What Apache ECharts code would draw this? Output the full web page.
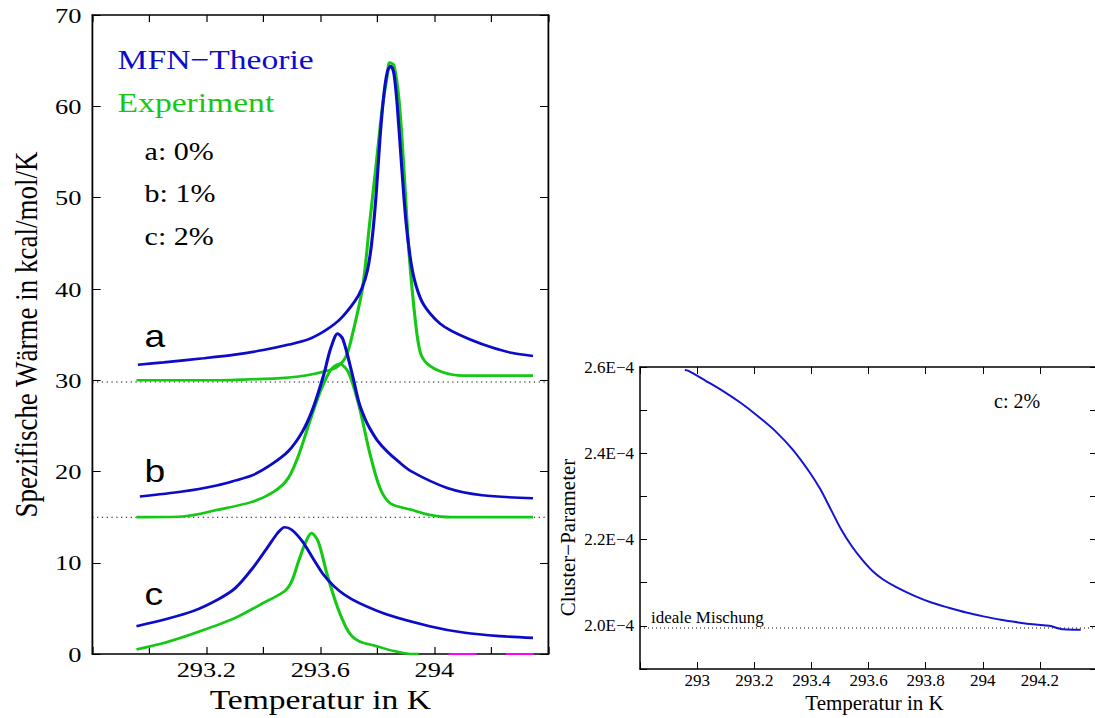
<!DOCTYPE html>
<html>
<head>
<meta charset="utf-8">
<script src="https://cdn.jsdelivr.net/npm/echarts@6/dist/echarts.min.js"></script>
<style>
  html, body { margin: 0; padding: 0; background: #fff; overflow: hidden; }
  #left { position: absolute; left: 0; top: 0; width: 470px; height: 718px;
          transform: scaleX(1.2); transform-origin: 0 0; }
  #right { position: absolute; left: 540px; top: 0; width: 560px; height: 718px; }
</style>
</head>
<body>
<div id="left"></div>
<div id="right"></div>
<script>
// ---- linke Grafik: spezifische Waerme (kcal/mol/K) ----
const tA_mfn = [292.96, 293.05, 293.19, 293.3, 293.4, 293.49, 293.56, 293.62, 293.67, 293.72, 293.745, 293.765, 293.78, 293.795, 293.81, 293.824, 293.836, 293.847, 293.858, 293.87, 293.885, 293.9, 293.915, 293.93, 293.955, 293.985, 294.02, 294.06, 294.13, 294.2, 294.27, 294.346];
const cA_mfn = [31.7, 31.95, 32.4, 32.8, 33.3, 33.9, 34.5, 35.5, 36.7, 38.6, 40.0, 42.0, 45.0, 50.0, 56.8, 61.6, 63.9, 64.4, 63.6, 60.0, 53.5, 47.5, 43.5, 41.0, 38.7, 37.3, 36.2, 35.4, 34.4, 33.6, 33.0, 32.65];
const tA_exp = [292.955, 293.1, 293.25, 293.36, 293.45, 293.524, 293.58, 293.62, 293.656, 293.69, 293.714, 293.749, 293.772, 293.795, 293.818, 293.836, 293.843, 293.858, 293.876, 293.894, 293.911, 293.934, 293.951, 293.975, 294.027, 294.1, 294.346];
const cA_exp = [30.0, 30.0, 30.0, 30.1, 30.2, 30.4, 30.7, 31.0, 31.4, 32.6, 35.2, 40.3, 46.9, 53.4, 60.0, 63.6, 64.8, 64.5, 60.7, 52.7, 44.0, 36.3, 33.0, 31.8, 30.9, 30.5, 30.5];

const tB_mfn = [292.967, 293.116, 293.24, 293.3, 293.363, 293.425, 293.487, 293.537, 293.574, 293.611, 293.636, 293.661, 293.679, 293.71, 293.735, 293.755, 293.772, 293.8, 293.834, 293.87, 293.92, 294.045, 294.168, 294.346];
const cB_mfn = [17.26, 17.8, 18.5, 19.0, 19.6, 20.7, 22.2, 24.35, 26.9, 30.5, 33.45, 35.1, 34.5, 30.9, 27.6, 25.9, 24.8, 23.4, 22.2, 21.2, 20.0, 18.2, 17.4, 17.07];
const tB_exp = [292.955, 293.116, 293.24, 293.363, 293.438, 293.487, 293.524, 293.562, 293.599, 293.636, 293.667, 293.698, 293.735, 293.772, 293.809, 293.846, 293.92, 293.983, 294.057, 294.346];
const cB_exp = [15.0, 15.07, 15.8, 16.7, 17.8, 19.26, 21.8, 25.4, 28.7, 31.1, 31.8, 30.9, 27.3, 22.2, 18.2, 16.5, 15.8, 15.25, 15.0, 15.0];

const tC_mfn = [292.955, 293.054, 293.153, 293.24, 293.302, 293.363, 293.413, 293.45, 293.475, 293.5, 293.537, 293.574, 293.611, 293.648, 293.685, 293.735, 293.834, 293.983, 294.107, 294.23, 294.346];
const cC_mfn = [3.06, 3.79, 4.7, 5.97, 7.24, 9.43, 11.6, 13.25, 13.9, 13.6, 12.34, 10.5, 8.7, 7.43, 6.5, 5.6, 4.33, 3.06, 2.33, 1.97, 1.78];
const tC_exp = [292.955, 293.054, 293.178, 293.302, 293.388, 293.475, 293.5, 293.524, 293.549, 293.569, 293.593, 293.624, 293.661, 293.698, 293.735, 293.797, 293.859, 293.908, 293.945];
const cC_exp = [0.51, 1.24, 2.5, 3.97, 5.4, 6.9, 8.0, 10.2, 12.3, 13.25, 12.3, 8.7, 5.06, 2.5, 1.42, 0.87, 0.33, 0.04, 0.0];

const tMagenta = [294.05, 294.35];
const refLevels = [29.8, 15.0];
const curveTags = ['a', 'b', 'c'];
const mixLabels = ['a: 0%', 'b: 1%', 'c: 2%'];

// ---- rechte Grafik: Cluster-Parameter (Einheit 1E-4) ----
const tCluster = [292.957, 292.97, 293.03, 293.091, 293.152, 293.213, 293.273, 293.334, 293.395, 293.431, 293.468, 293.504, 293.541, 293.577, 293.614, 293.65, 293.699, 293.759, 293.82, 293.881, 293.942, 294.002, 294.063, 294.124, 294.185, 294.233, 294.282, 294.343];
const pCluster = [2.593, 2.591, 2.568, 2.544, 2.517, 2.486, 2.452, 2.409, 2.355, 2.317, 2.270, 2.224, 2.185, 2.154, 2.127, 2.108, 2.089, 2.07, 2.054, 2.042, 2.031, 2.022, 2.014, 2.008, 2.003, 2.0, 1.992, 1.991];
const idealLevel = 1.995;

const SERIF = 'Liberation Serif, DejaVu Serif, serif';
const SANS = 'Liberation Sans, DejaVu Sans, sans-serif';
const BLUE = '#0c0cc8';
const GREEN = '#14c814';

const zip = (xs, ys) => xs.map((x, i) => [x, ys[i]]);

function frameAxis(extra) {
  return Object.assign({
    type: 'value',
    axisLine: { show: true, onZero: false, lineStyle: { color: '#000', width: 1.5 } },
    axisTick: { show: true, inside: true, length: 7, lineStyle: { color: '#000', width: 1 } },
    splitLine: { show: false },
  }, extra);
}

function curve(data, color, width) {
  return {
    type: 'line',
    data,
    symbol: 'none',
    smooth: 0.3,
    lineStyle: { color, width },
    z: 3,
  };
}

function dotted(y, x0, x1) {
  return {
    type: 'line',
    data: [[x0, y], [x1, y]],
    symbol: 'none',
    lineStyle: { color: '#000', width: 1, type: [1, 3] },
    z: 2,
  };
}

function label(text, x, y, size, family, color) {
  return {
    type: 'text',
    x, y,
    style: {
      text, fill: color, fontSize: size, fontFamily: family,
      align: 'left', verticalAlign: 'middle',
      textAlign: 'left', textVerticalAlign: 'middle',
    },
  };
}

// ---------------- linke Grafik ----------------
const leftChart = echarts.init(document.getElementById('left'), null, { renderer: 'svg' });
const xLeftLabel = (v) => {
  const k = Math.round(v * 10);
  return (k % 4 === 0 && k !== 2928 && k !== 2944) ? String(k / 10) : '';
};

leftChart.setOption({
  animation: false,
  grid: { left: 73, right: 13, top: 15, bottom: 62 },
  xAxis: [
    frameAxis({
      min: 292.8, max: 294.4, interval: 0.2,
      axisLabel: { margin: 4, fontFamily: SERIF, fontSize: 22, color: '#000', formatter: xLeftLabel },
      name: 'Temperatur in K', nameLocation: 'middle', nameGap: 30,
      nameTextStyle: { fontFamily: SERIF, fontSize: 28, color: '#000' },
    }),
    frameAxis({ position: 'top', min: 292.8, max: 294.4, interval: 0.2, axisLabel: { show: false } }),
  ],
  yAxis: [
    frameAxis({
      min: 0, max: 70, interval: 10,
      axisLabel: { margin: 9, fontFamily: SERIF, fontSize: 22, color: '#000' },
      name: 'Spezifische Wärme in kcal/mol/K', nameLocation: 'middle', nameGap: 36,
      nameTextStyle: { fontFamily: SERIF, fontSize: 27, color: '#000' },
    }),
    frameAxis({ position: 'right', min: 0, max: 70, interval: 10, axisLabel: { show: false } }),
  ],
  series: [
    dotted(refLevels[0], 292.8, 294.4),
    dotted(refLevels[1], 292.8, 294.4),
    curve(zip(tA_exp, cA_exp), GREEN, 2.6),
    curve(zip(tB_exp, cB_exp), GREEN, 2.6),
    curve(zip(tC_exp, cC_exp), GREEN, 2.6),
    curve(zip(tA_mfn, cA_mfn), BLUE, 2.6),
    curve(zip(tB_mfn, cB_mfn), BLUE, 2.6),
    curve(zip(tC_mfn, cC_mfn), BLUE, 2.6),
    {
      type: 'line',
      data: tMagenta.map((t) => [t, 0]),
      symbol: 'none',
      lineStyle: { color: '#ff00ff', width: 2, type: [23.3, 24.4] },
      z: 5,
    },
  ],
  graphic: [
    label('MFN−Theorie', 98, 59, 28, SERIF, BLUE),
    label('Experiment', 98, 102.5, 28, SERIF, GREEN),
    label(mixLabels[0], 120.5, 151, 25, SERIF, '#000'),
    label(mixLabels[1], 120.5, 193.5, 25, SERIF, '#000'),
    label(mixLabels[2], 120.5, 236, 25, SERIF, '#000'),
    label(curveTags[0], 120.5, 336, 31, SANS, '#000'),
    label(curveTags[1], 120.5, 471, 31, SANS, '#000'),
    label(curveTags[2], 120.5, 594.5, 31, SANS, '#000'),
  ],
});

// ---------------- rechte Grafik ----------------
const rightChart = echarts.init(document.getElementById('right'), null, { renderer: 'svg' });
const xRightLabel = (v) => {
  const k = Math.round(v * 10);
  return (k > 2928 && k < 2944) ? String(k / 10) : '';
};
const yRightLabel = (v) => {
  const k = Math.round(v * 10);
  return (k % 2 === 0 && k >= 20) ? (k / 10).toFixed(1) + 'E−4' : '';
};

rightChart.setOption({
  animation: false,
  grid: { left: 100, right: 2, top: 367, bottom: 49 },
  xAxis: [
    frameAxis({
      min: 292.8, max: 294.4, interval: 0.2,
      axisLabel: { margin: 3, fontFamily: SERIF, fontSize: 17, color: '#000', formatter: xRightLabel },
      name: 'Temperatur in K', nameLocation: 'middle', nameGap: 23,
      nameTextStyle: { fontFamily: SERIF, fontSize: 21, color: '#000', padding: [0, 0, 0, 12] },
    }),
    frameAxis({ position: 'top', min: 292.8, max: 294.4, interval: 0.2, axisLabel: { show: false } }),
  ],
  yAxis: [
    frameAxis({
      min: 1.9, max: 2.6, interval: 0.1,
      axisLabel: { margin: 6, fontFamily: SERIF, fontSize: 17, color: '#000', formatter: yRightLabel },
    }),
    frameAxis({ position: 'right', min: 1.9, max: 2.6, interval: 0.1, axisLabel: { show: false } }),
  ],
  series: [
    dotted(idealLevel, 292.8, 294.4),
    curve(zip(tCluster, pCluster), '#1414d2', 2),
  ],
  graphic: [
    {
      type: 'text',
      x: 28, y: 537.5,
      rotation: Math.PI / 2,
      style: {
        text: 'Cluster−Parameter', fill: '#000', fontSize: 21, fontFamily: SERIF,
        align: 'center', verticalAlign: 'middle', textAlign: 'center', textVerticalAlign: 'middle',
      },
    },
    label('ideale Mischung', 111, 617, 17, SERIF, '#000'),
    label('c: 2%', 454, 401, 20, SERIF, '#000'),
  ],
});
</script>
</body>
</html>
